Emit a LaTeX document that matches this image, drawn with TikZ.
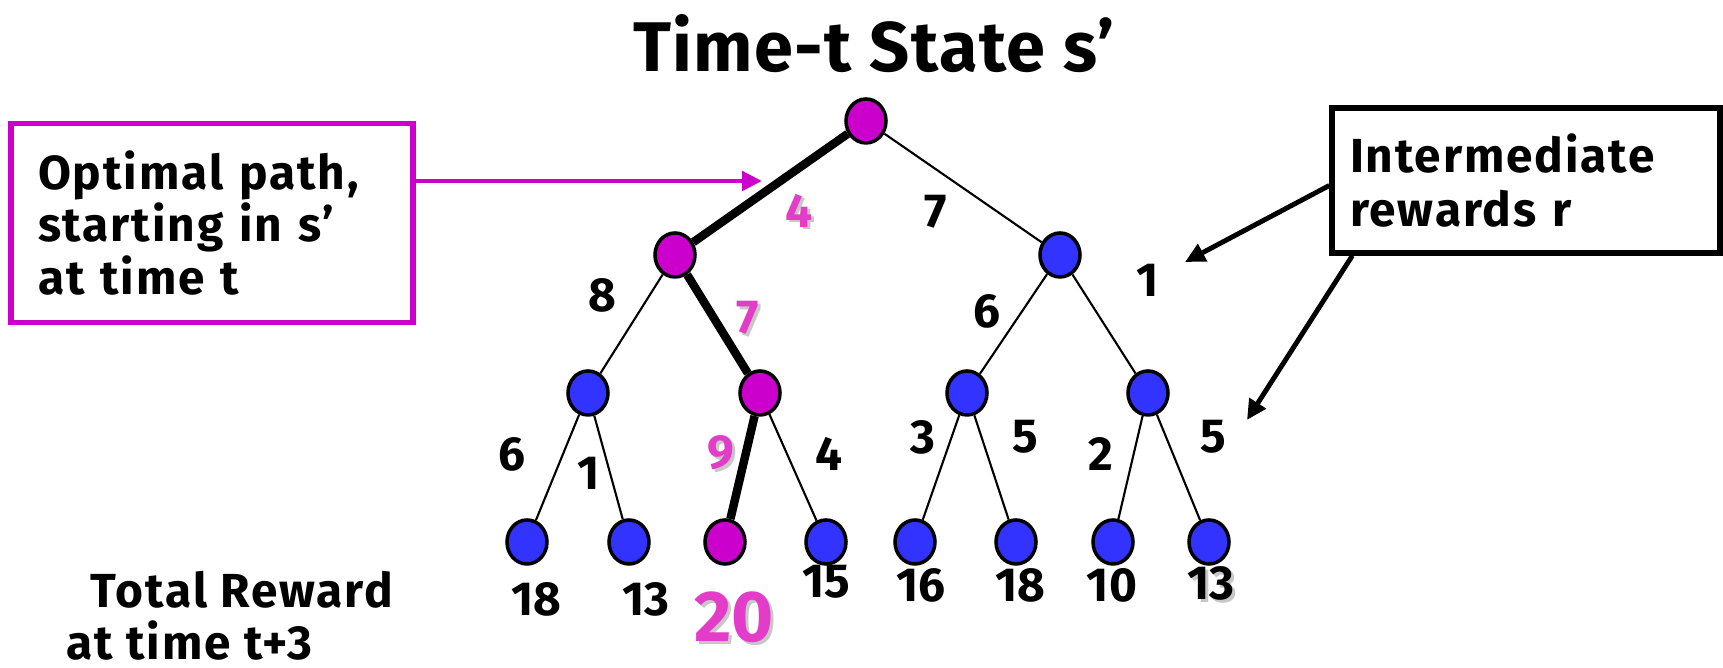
\documentclass[tikz,border=0pt]{standalone}
\usepackage{fontspec}
\setmainfont{Fira Sans}
\newfontfamily\widefont{Fira Sans}[LetterSpace=4]
\newfontfamily\titlefont{Fira Sans}[LetterSpace=2]
\usetikzlibrary{calc,positioning,arrows.meta,shapes.geometric}
\definecolor{mymagenta}{RGB}{204,0,204}
\definecolor{mypink}{RGB}{226,60,200}
\definecolor{myblue}{RGB}{51,51,255}
\newcommand{\shadenum}[1]{\makebox[0pt][l]{\hspace{0.8pt}\raisebox{-0.8pt}{\textcolor{black!22}{#1}}}\textcolor{mypink}{#1}}
\newcommand{\shadegray}[1]{\makebox[0pt][l]{\hspace{0.8pt}\raisebox{-0.8pt}{\textcolor{black!22}{#1}}}#1}

\begin{document}
\begin{tikzpicture}[
  state/.style={draw=black, line width=1pt, ellipse, minimum width=0.40cm, minimum height=0.44cm, inner sep=0pt},
  onpath/.style={state, fill=mymagenta},
  offpath/.style={state, fill=myblue},
  edge/.style={line width=0.6pt},
  best/.style={line width=2.4pt},
  num/.style={font=\fontsize{13.6}{14}\selectfont\bfseries, inner sep=0pt},
  hot/.style={num, text=mypink},
  callout/.style={font=\widefont\fontsize{13.6}{13.7}\selectfont\bfseries, align=left},
  pointer/.style={line width=1.4pt, -{Triangle[length=2mm,width=1.9mm]}}
]
  \useasboundingbox (0,0) rectangle (17.23,6.68);

  % Title
  \node[font=\titlefont\fontsize{20}{24}\selectfont\bfseries] (title) at (8.74,6.24) {Time-t State s’};

  % Root and level 1
  \node[onpath] (s0) at (8.66,5.47) {};
  \node[onpath] (s1) at (6.75,4.13) {};
  \node[offpath] (s2) at (10.60,4.13) {};

  % Level 2
  \node[offpath] (s11) at (5.88,2.75) {};
  \node[onpath] (s12) at (7.60,2.75) {};
  \node[offpath] (s21) at (9.67,2.75) {};
  \node[offpath] (s22) at (11.48,2.75) {};

  % Level 3
  \node[offpath] (s111) at (5.27,1.26) {};
  \node[offpath] (s112) at (6.29,1.26) {};
  \node[onpath] (s121) at (7.25,1.26) {};
  \node[offpath] (s122) at (8.26,1.26) {};
  \node[offpath] (s211) at (9.15,1.26) {};
  \node[offpath] (s212) at (10.16,1.26) {};
  \node[offpath] (s221) at (11.13,1.26) {};
  \node[offpath] (s222) at (12.09,1.26) {};

  % Branches
  \draw[best] (s0) -- (s1);
  \draw[edge] (s0) -- (s2);
  \draw[edge] (s1) -- (s11);
  \draw[best] (s1) -- (s12);
  \draw[edge] (s2) -- (s21);
  \draw[edge] (s2) -- (s22);
  \draw[edge] (s11) -- (s111);
  \draw[edge] (s11) -- (s112);
  \draw[best] (s12) -- (s121);
  \draw[edge] (s12) -- (s122);
  \draw[edge] (s21) -- (s211);
  \draw[edge] (s21) -- (s212);
  \draw[edge] (s22) -- (s221);
  \draw[edge] (s22) -- (s222);

  % Rewards on the branches
  \node[hot] (r1) at (7.99,4.56) {\shadenum{4}};
  \node[num] (r2) at (9.36,4.56) {7};
  \node[num] (r11) at (6.02,3.73) {8};
  \node[hot] (r12) at (7.48,3.49) {\shadenum{7}};
  \node[num] (r21) at (9.87,3.57) {6};
  \node[num] (r22) at (11.48,3.88) {1};
  \node[num] (r111) at (5.12,2.14) {6};
  \node[num] (r112) at (5.89,1.95) {1};
  \node[hot] (r121) at (7.21,2.14) {\shadenum{9}};
  \node[num] (r122) at (8.29,2.14) {4};
  \node[num] (r211) at (9.23,2.31) {3};
  \node[num] (r212) at (10.25,2.31) {5};
  \node[num] (r221) at (11.01,2.14) {2};
  \node[num] (r222) at (12.13,2.31) {5};

  % Totals at the leaves
  \node[num] (v111) at (5.36,0.69) {18};
  \node[num] (v112) at (6.46,0.69) {13};
  \node[hot, font=\fontsize{20.5}{22}\selectfont\bfseries] (v121) at (7.34,0.49) {\shadenum{20}};
  \node[num] (v122) at (8.26,0.86) {15};
  \node[num] (v211) at (9.21,0.83) {16};
  \node[num] (v212) at (10.20,0.83) {18};
  \node[num] (v221) at (11.12,0.83) {10};
  \node[num] (v222) at (12.11,0.83) {\shadegray{13}};

  \node[callout, inner sep=0pt, anchor=west] (total1) at (0.90,0.78) {Total Reward};
  \node[callout, inner sep=0pt, anchor=west] (total2) at (0.66,0.27) {at time t+3};

  % Optimal path box
  \node[callout, draw=mymagenta, line width=1.5pt, minimum width=4.02cm, minimum height=1.99cm,
        text width=3.48cm, inner sep=0.27cm] (optbox) at (2.12,4.45)
        {Optimal path,\\starting in s’\\at time t};
  \coordinate (opttip) at (7.62,4.87);
  \draw[pointer, draw=mymagenta, fill=mymagenta] (optbox.east |- opttip) -- (opttip);

  % Rewards box
  \node[callout, font=\widefont\fontsize{13.6}{15.6}\selectfont\bfseries, draw=black, line width=1.5pt,
        minimum width=3.88cm, minimum height=1.45cm, text width=3.52cm, inner sep=0.18cm]
        (rewbox) at (15.26,4.875) {Intermediate\\rewards r};
  \coordinate (rewtip1) at (11.85,4.06);
  \coordinate (rewtip2) at (12.47,2.48);
  \draw[pointer, fill=black] ($(rewbox.west)+(0,-0.05)$) -- (rewtip1);
  \draw[pointer, fill=black] ($(rewbox.south west)+(0.23,0)$) -- (rewtip2);
\end{tikzpicture}
\end{document}
